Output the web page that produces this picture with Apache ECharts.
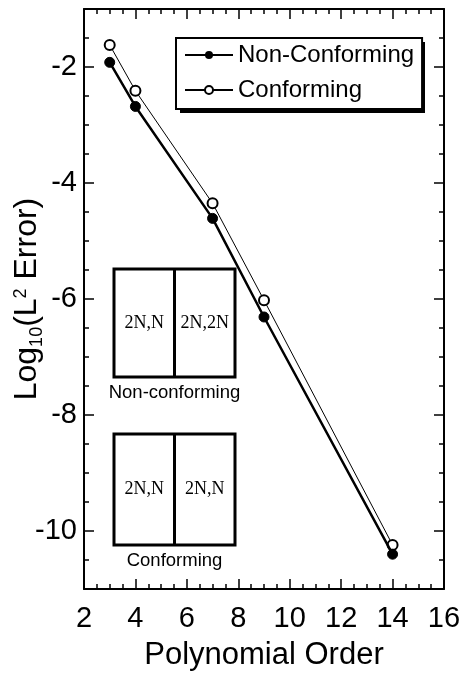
<!DOCTYPE html>
<html>
<head>
<meta charset="utf-8">
<script src="https://cdn.jsdelivr.net/npm/echarts@6/dist/echarts.min.js"></script>
<style>
  html, body { margin: 0; padding: 0; background: #fff; }
  #chart { width: 463px; height: 674px; }
</style>
</head>
<body>
<div id="chart"></div>
<script>
// Polynomial order (x) and log10 of the L2 error (y) for the two meshes
const orders = [3, 4, 7, 9, 14];
const nonConforming = [-1.92, -2.68, -4.61, -6.31, -10.40];
const conforming = [-1.62, -2.41, -4.35, -6.02, -10.24];
const seriesNames = ['Non-Conforming', 'Conforming'];

const SANS = 'Liberation Sans, Arial, Helvetica, sans-serif';
const SERIF = 'Liberation Serif, Times New Roman, serif';

const pairs = ys => orders.map((x, i) => [x, ys[i]]);

const chart = echarts.init(document.getElementById('chart'), null, { renderer: 'canvas' });

const tickCommon = {
  axisLine: { show: true, lineStyle: { color: '#000', width: 2 } },
  axisTick: { show: true, inside: true, length: 10, lineStyle: { color: '#000', width: 1.5 } },
  minorTick: { show: true, splitNumber: 4, length: 5, lineStyle: { color: '#000', width: 1.5 } },
  splitLine: { show: false },
  minorSplitLine: { show: false }
};

// Inset sketch of two side-by-side elements with their resolutions
function meshSketch(x, y, w, h, leftText, rightText, caption) {
  const half = w / 2;
  return [
    { type: 'rect', shape: { x: x, y: y, width: w, height: h },
      style: { fill: '#fff', stroke: '#000', lineWidth: 3 } },
    { type: 'line', shape: { x1: x + half, y1: y, x2: x + half, y2: y + h },
      style: { stroke: '#000', lineWidth: 3 } },
    { type: 'text', x: x + half / 2, y: y + h / 2,
      style: { text: leftText, font: '18px ' + SERIF, fill: '#000', align: 'center', verticalAlign: 'middle' } },
    { type: 'text', x: x + half * 1.5, y: y + h / 2,
      style: { text: rightText, font: '18px ' + SERIF, fill: '#000', align: 'center', verticalAlign: 'middle' } },
    { type: 'text', x: x + half, y: y + h + 16,
      style: { text: caption, font: '18.5px ' + SANS, fill: '#000', align: 'center', verticalAlign: 'middle' } }
  ];
}

// Solid drop shadow sitting behind the legend box
const legendShadow = {
  type: 'rect', z: 3, silent: true,
  shape: { x: 180, y: 42, width: 245, height: 71 },
  style: { fill: '#000' }
};

const option = {
  animation: false,
  backgroundColor: '#fff',
  grid: { left: 84, top: 9, width: 360, height: 580, show: false, outerBoundsMode: 'none', containLabel: false },
  legend: {
    data: seriesNames,
    orient: 'vertical',
    left: 176,
    top: 38,
    align: 'left',
    padding: [5, 8, 7, 8],
    itemGap: 11,
    itemWidth: 48,
    itemHeight: 10,
    selectedMode: false,
    backgroundColor: '#fff',
    borderColor: '#000',
    borderWidth: 2,
    borderRadius: 0,
    z: 5,
    textStyle: { fontSize: 24, color: '#000', fontFamily: SANS }
  },
  xAxis: [
    Object.assign({
      type: 'value', min: 2, max: 16, interval: 2, position: 'bottom',
      name: 'Polynomial Order', nameLocation: 'middle', nameGap: 51, nameMoveOverlap: false,
      nameTextStyle: { fontSize: 31, color: '#000', fontFamily: SANS },
      axisLabel: { fontSize: 29, color: '#000', fontFamily: SANS, margin: 15 }
    }, tickCommon),
    Object.assign({
      type: 'value', min: 2, max: 16, interval: 2, position: 'top',
      axisLabel: { show: false }
    }, tickCommon)
  ],
  yAxis: [
    Object.assign({
      type: 'value', min: -11, max: -1, splitNumber: 5, position: 'left',
      name: '{a|Log}{b|10}{a|(L}{c|2}{a| Error)}',
      nameLocation: 'middle', nameGap: 38, nameRotate: 90, nameMoveOverlap: false,
      nameTextStyle: {
        color: '#000', fontFamily: SANS,
        rich: {
          a: { fontSize: 32, lineHeight: 38, color: '#000', fontFamily: SANS },
          b: { fontSize: 18, lineHeight: 18, verticalAlign: 'bottom', color: '#000', fontFamily: SANS },
          c: { fontSize: 18, lineHeight: 18, verticalAlign: 'top', padding: [4, 0, 0, 0], color: '#000', fontFamily: SANS }
        }
      },
      axisLabel: {
        fontSize: 29, color: '#000', fontFamily: SANS, margin: 7,
        showMinLabel: false, showMaxLabel: false,
        formatter: v => (Math.round(v) % 2 === 0 ? String(v) : '')
      }
    }, tickCommon),
    Object.assign({
      type: 'value', min: -11, max: -1, splitNumber: 5, position: 'right',
      axisLabel: { show: false }
    }, tickCommon)
  ],
  series: [
    {
      name: seriesNames[0], type: 'line', xAxisIndex: 0, yAxisIndex: 0,
      data: pairs(nonConforming),
      symbol: 'circle', symbolSize: 10,
      lineStyle: { color: '#000', width: 2.5 },
      itemStyle: { color: '#000', borderColor: '#000' },
      z: 3
    },
    {
      name: seriesNames[1], type: 'line', xAxisIndex: 0, yAxisIndex: 0,
      data: pairs(conforming),
      symbol: 'emptyCircle', symbolSize: 10,
      lineStyle: { color: '#000', width: 1 },
      itemStyle: { color: '#000', borderColor: '#000', borderWidth: 1 },
      z: 2
    }
  ],
  graphic: [legendShadow].concat(
    meshSketch(114, 269, 121, 108, '2N,N', '2N,2N', 'Non-conforming'),
    meshSketch(114, 434, 121, 111, '2N,N', '2N,N', 'Conforming')
  )
};

chart.setOption(option);
</script>
</body>
</html>
